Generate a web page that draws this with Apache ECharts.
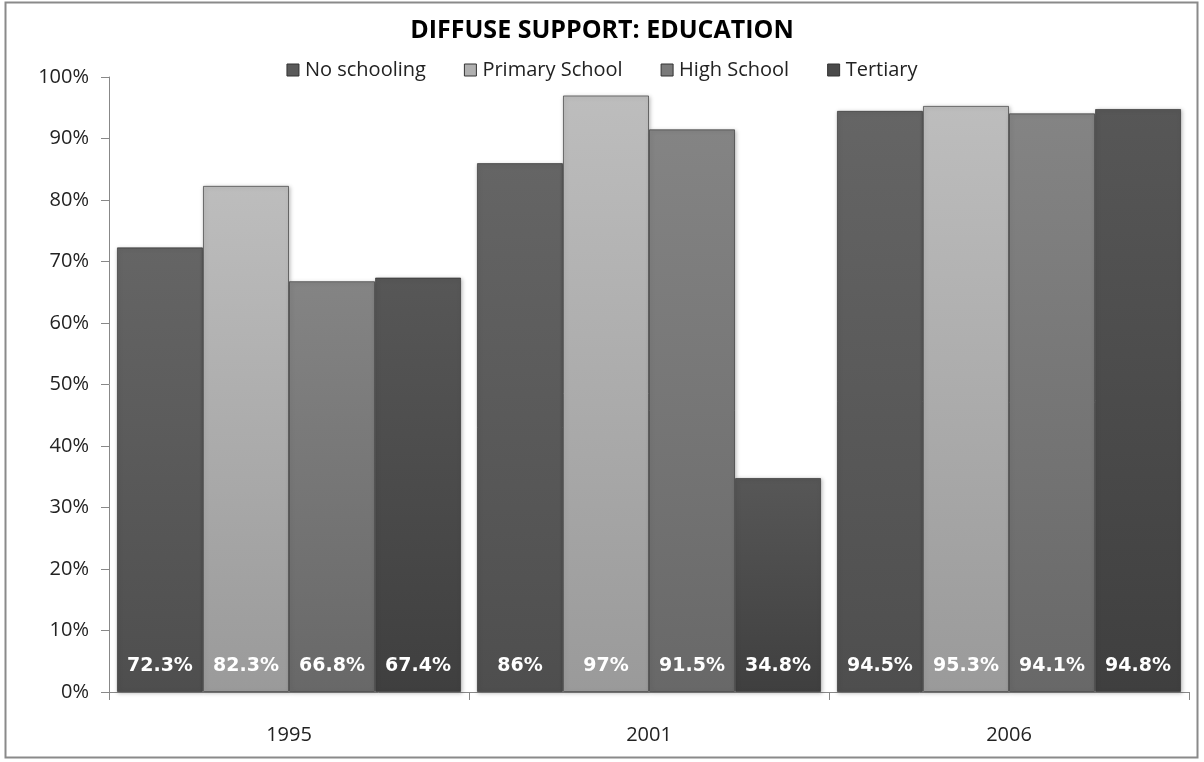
<!DOCTYPE html>
<html>
<head>
<meta charset="utf-8">
<script src="https://cdn.jsdelivr.net/npm/echarts@6/dist/echarts.min.js"></script>
<style>html,body{margin:0;padding:0;background:#fff}#chart{width:1204px;height:762px}</style>
</head>
<body>
<div id="chart"></div>
<script>
const years = ['1995', '2001', '2006'];
const seriesNames = ['No schooling', 'Primary School', 'High School', 'Tertiary'];
const noSchooling = [72.3, 86, 94.5];
const primarySchool = [82.3, 97, 95.3];
const highSchool = [66.8, 91.5, 94.1];
const tertiary = [67.4, 34.8, 94.8];
const valueLabels = [
  ['72.3%', '86%', '94.5%'],
  ['82.3%', '97%', '95.3%'],
  ['66.8%', '91.5%', '94.1%'],
  ['67.4%', '34.8%', '94.8%']
];
const yTicks = [0, 10, 20, 30, 40, 50, 60, 70, 80, 90, 100];

const values = [noSchooling, primarySchool, highSchool, tertiary];
const shades = [
  ['#656565', '#4e4e4e'],
  ['#bdbdbd', '#9a9a9a'],
  ['#848484', '#686868'],
  ['#575757', '#3f3f3f']
];
const legendColors = ['#5a5a5a', '#b0b0b0', '#7a7a7a', '#4a4a4a'];
const font = 'Open Sans, Liberation Sans, sans-serif';

const chart = echarts.init(document.getElementById('chart'));
chart.setOption({
  animation: false,
  backgroundColor: '#fff',
  graphic: [{
    type: 'rect',
    shape: { x: 5.5, y: 2.5, width: 1192, height: 755 },
    style: { fill: 'none', stroke: '#8a8a8a', lineWidth: 2 },
    silent: true, z: -1
  }],
  title: {
    text: 'DIFFUSE SUPPORT: EDUCATION',
    left: 'center', top: 13,
    textStyle: { fontFamily: 'Open Sans, sans-serif', fontWeight: 'bold', fontSize: 25, color: '#000' }
  },
  legend: {
    top: 55, left: 'center',
    itemWidth: 12, itemHeight: 12, itemGap: 38,
    icon: 'rect',
    textStyle: { fontFamily: font, fontSize: 20, color: '#222', padding: [0, 0, 0, 1] },
    data: seriesNames.map((n, i) => ({ name: n, itemStyle: { color: legendColors[i], borderColor: '#333', borderWidth: 1 } }))
  },
  grid: { left: 109, right: 15, top: 77, bottom: 70, containLabel: false },
  xAxis: {
    type: 'category',
    data: years,
    axisLine: { lineStyle: { color: '#888' } },
    axisTick: { show: true, length: 8, lineStyle: { color: '#888' } },
    axisLabel: { fontFamily: font, fontSize: 20, color: '#222', margin: 33 }
  },
  yAxis: {
    type: 'value',
    min: yTicks[0], max: yTicks[yTicks.length - 1], interval: 10,
    axisLine: { show: true, lineStyle: { color: '#888' } },
    axisTick: { show: true, length: 8, lineStyle: { color: '#888' } },
    splitLine: { show: false },
    axisLabel: { fontFamily: font, fontSize: 20, color: '#222', margin: 20, formatter: v => v + '%' }
  },
  series: seriesNames.map((name, i) => ({
    name,
    type: 'bar',
    data: values[i],
    barGap: '0%',
    barCategoryGap: '4.4%',
    itemStyle: {
      color: new echarts.graphic.LinearGradient(0, 0, 0, 1, [
        { offset: 0, color: shades[i][0] },
        { offset: 1, color: shades[i][1] }
      ]),
      borderColor: 'rgba(40,40,40,0.6)',
      borderWidth: 1,
      shadowColor: 'rgba(0,0,0,0.25)',
      shadowBlur: 4,
      shadowOffsetX: 1,
      shadowOffsetY: 1
    },
    label: {
      show: true,
      position: 'insideBottom',
      distance: 16,
      formatter: p => valueLabels[i][p.dataIndex],
      fontFamily: 'DejaVu Sans, sans-serif',
      fontWeight: 'bold',
      fontSize: 19,
      color: '#fff'
    }
  }))
});
</script>
</body>
</html>
